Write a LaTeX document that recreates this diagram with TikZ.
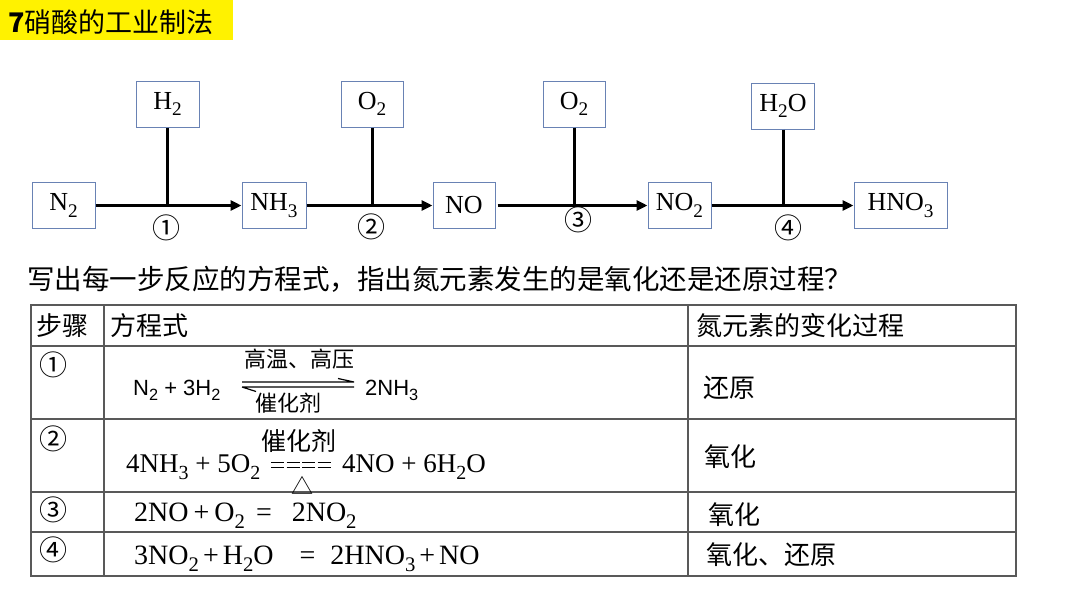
\documentclass[tikz,border=0pt]{standalone}
\usepackage{fontspec}
\setmainfont{Liberation Serif}
\newfontfamily\cjk{Noto Sans CJK SC}
\newfontfamily\arialf{Liberation Sans}
\usetikzlibrary{arrows.meta}
\newcommand\fs[1]{\fontsize{#1}{#1}\selectfont}
\newcommand\chs[1]{\raisebox{-0.26em}{\scalebox{0.74}{#1}}}
\definecolor{boxc}{RGB}{105,130,180}
\begin{document}
\begin{tikzpicture}[x=1pt,y=-1pt,
  box/.style={draw=boxc, line width=1pt, minimum height=46pt, inner sep=0pt, font=\fs{26}},
  flow/.style={line width=3pt, -{Triangle[length=11pt,width=10pt]}},
  feed/.style={line width=3pt},
  num/.style={font=\cjk\fs{28}, inner sep=0pt},
  tline/.style={line width=1.3pt, draw=black!65},
  cjkt/.style={font=\cjk\fs{26}, inner sep=0pt},
  form/.style={font=\fs{27}, inner sep=0pt, anchor=base west},
  formb/.style={font=\fs{28}, inner sep=0pt, anchor=base west},
  eqbar/.style={line width=1.3pt, dash pattern=on 13pt off 2.5pt},
]
\useasboundingbox (0,0) rectangle (1080,608);
\fill[white] (0,0) rectangle (1080,608);
% title
\fill[yellow] (0,0) rectangle (233,40);
\node[font=\cjk\fs{27}, inner sep=0pt, anchor=west] (title) at (8,22) {\textbf{7}硝酸的工业制法};
% flow boxes
\node[box, minimum width=63pt] (n2) at (63.5,205.5) {N\chs{2}};
\node[box, minimum width=63pt] (h2) at (167.5,104) {H\chs{2}};
\node[box, minimum width=64pt] (nh3) at (274,205.5) {NH\chs{3}};
\node[box, minimum width=62pt] (o2a) at (372,104) {O\chs{2}};
\node[box, minimum width=62pt] (no) at (464,205.5) {NO};
\node[box, minimum width=62pt] (o2b) at (574,104) {O\chs{2}};
\node[box, minimum width=63pt] (no2) at (679.5,205.5) {NO\chs{2}};
\node[box, minimum width=63pt] (h2o) at (783,106) {H\chs{2}O};
\node[box, minimum width=93pt] (hno3) at (900.5,205.5) {HNO\chs{3}};
% connectors
\draw[flow] (n2.east) -- (nh3.west);
\draw[flow] (nh3.east) -- (no.west);
\draw[flow, shorten <=2pt] (no.east) -- (no2.west);
\draw[flow] (no2.east) -- (hno3.west);
\draw[feed] (h2.south) -- (h2.south |- n2.east);
\draw[feed] (o2a.south) -- (o2a.south |- n2.east);
\draw[feed] (o2b.south) -- (o2b.south |- n2.east);
\draw[feed] (h2o.south) -- (h2o.south |- n2.east);
\node[num] (s1) at (166,228) {①};
\node[num] (s2) at (371,227) {②};
\node[num] (s3) at (578,220) {③};
\node[num] (s4) at (788,228) {④};
% question
\node[font=\cjk\fs{27.5}, inner sep=0pt, anchor=west] (q) at (27,279) {写出每一步反应的方程式，指出氮元素发生的是氧化还是还原过程？};
% table grid
\draw[tline] (31,305) rectangle (1016,576);
\foreach \yy in {346,419,492,532} \draw[tline] (31,\yy) -- (1016,\yy);
\draw[tline] (104,305) -- (104,576);
\draw[tline] (688,305) -- (688,576);
% header
\node[cjkt, anchor=west] (hstep) at (36,325.5) {步骤};
\node[cjkt, anchor=west] (heq) at (110,325.5) {方程式};
\node[cjkt, anchor=west] (hchg) at (696,325.5) {氮元素的变化过程};
% step numbers
\node[num] (r1) at (53,365) {①};
\node[num] (r2) at (53,439) {②};
\node[num] (r3) at (53,510) {③};
\node[num] (r4) at (53,550) {④};
% row 1
\node[font=\arialf\fs{22}, inner sep=0pt, anchor=base west] (e1l) at (133,395) {N\chs{2} + 3H\chs{2}};
\node[font=\arialf\fs{22}, inner sep=0pt, anchor=base west] (e1r) at (365,395) {2NH\chs{3}};
\draw[line width=1.2pt] (242,382) -- (354,382) (338,378.5) -- (354,382);
\draw[line width=1.2pt] (242,387) -- (354,387) (242,387) -- (256,391.5);
\node[font=\cjk\fs{22}, inner sep=0pt] (c1a) at (299,359) {高温、高压};
\node[font=\cjk\fs{22}, inner sep=0pt] (c1b) at (288,403) {催化剂};
% row 2
\node[form] (e2l) at (126,472) {4NH\chs{3} + 5O\chs{2}};
\node[font=\cjk\fs{25}, inner sep=0pt] (c2a) at (299,441) {催化剂};
\draw[eqbar] (271,462.5) -- (331,462.5);
\draw[eqbar] (271,467.5) -- (331,467.5);
\node[font=\cjk\fs{22}, inner sep=0pt, anchor=base, text height=17pt, text depth=0pt] (c2b) at (302,494) {△};
\node[form] (e2r) at (342,472) {4NO + 6H\chs{2}O};
% row 3
\node[formb] (e3) at (134,521) {2NO\hspace{5pt}+\hspace{5pt}O\chs{2}\hspace{11pt}=\hspace{20pt}2NO\chs{2}};
% row 4
\node[formb] (e4) at (134,564) {3NO\chs{2}\hspace{4pt}+\hspace{4pt}H\chs{2}O\hspace{26pt}=\hspace{15pt}2HNO\chs{3}\hspace{4pt}+\hspace{4pt}NO};
% right column
\node[cjkt, anchor=west] (k1) at (703,388) {还原};
\node[cjkt, anchor=west] (k2) at (704,457) {氧化};
\node[cjkt, anchor=west] (k3) at (708,515) {氧化};
\node[cjkt, anchor=west] (k4) at (706,555) {氧化、还原};
\end{tikzpicture}
\end{document}
